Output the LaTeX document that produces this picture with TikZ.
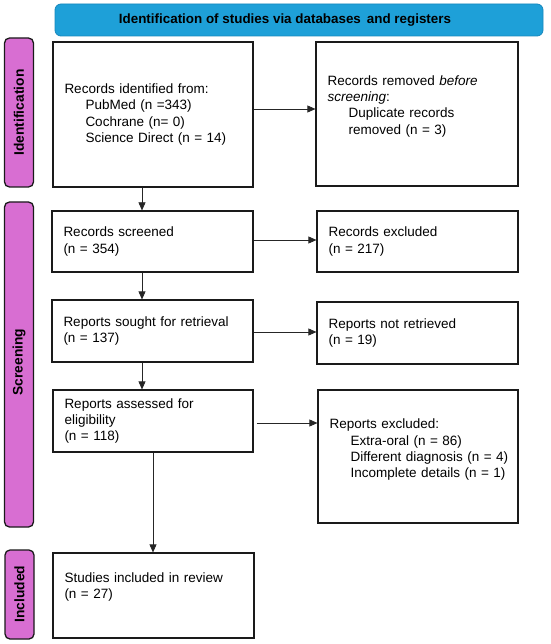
\documentclass[tikz,border=0pt]{standalone}
\usepackage{fontspec}
\setmainfont{Liberation Sans}
\usetikzlibrary{arrows.meta,calc}
\definecolor{barblue}{HTML}{1EA0D8}
\definecolor{barblueline}{HTML}{1787BC}
\definecolor{sidepink}{HTML}{D86ED2}
\definecolor{boxline}{HTML}{1A1A1A}
\begin{document}
\begin{tikzpicture}[x=1pt,y=-1pt,
  every node/.style={font=\fontsize{13.5}{16.2}\selectfont, inner sep=0pt},
  flowbox/.style={draw=boxline, line width=1.2pt, rectangle, align=left,
    text width=#1, inner xsep=11.5pt, inner ysep=0pt},
  sidebar/.style={draw=boxline, fill=sidepink, line width=1.3pt, rounded corners=5pt},
  sidelabel/.style={font=\fontsize{13.8}{16}\selectfont\bfseries, rotate=90},
  arr/.style={draw=black!85, line width=0.7pt, -{Triangle[length=8pt,width=7pt]}}
]
\useasboundingbox (0,0) rectangle (550,644);
% title
\node[draw=barblueline, fill=barblue, line width=0.8pt, rounded corners=6pt,
  minimum width=488pt, minimum height=32pt] (title) at (299,20) {};
\node[font=\fontsize{13.4}{16}\selectfont\bfseries] (titletext) at (285,20) {Identification of studies via databases\, and registers};
% side bars
\node[sidebar, minimum width=29pt, minimum height=149pt] (sid) at (19,112.5) {};
\node[sidelabel] (sidt) at (19,112.5) {Identification};
\node[sidebar, minimum width=29pt, minimum height=325pt] (sscr) at (19,364.5) {};
\node[sidelabel] (sscrt) at (19,362) {Screening};
\node[sidebar, minimum width=29pt, minimum height=89pt] (sinc) at (19.5,594.5) {};
\node[sidelabel] (sinct) at (19.5,594) {Included};
% boxes
\newcommand{\ind}{\hspace*{21pt}}
\node[flowbox=177pt, minimum height=145pt] (b1) at (153,114.5)
  {Records identified from:\\ \ind PubMed (n =343)\\ \ind Cochrane (n= 0)\\ \ind Science Direct (n = 14)};
\node[flowbox=179pt, minimum height=144pt] (b2) at (417,114)
  {Records removed \textit{before screening}:\\ \ind Duplicate records\\ \ind removed (n = 3)\\[2pt] \mbox{}};
\node[flowbox=178pt, minimum height=61pt] (b3) at (152.5,241.5)
  {Records screened\\ (n = 354)};
\node[flowbox=178pt, minimum height=61pt] (b4) at (417.5,241.5)
  {Records excluded\\ (n = 217)};
\node[flowbox=178pt, minimum height=62pt] (b5) at (152.5,331)
  {Reports sought for retrieval\\ (n = 137)};
\node[flowbox=178pt, minimum height=62pt] (b6) at (417.5,333)
  {Reports not retrieved\\ (n = 19)};
\node[flowbox=177pt, minimum height=62pt] (b7) at (153,421)
  {Reports assessed for\\ eligibility\\ (n = 118)};
\node[flowbox=177pt, minimum height=133pt] (b8) at (418,456.5)
  {Reports excluded:\\ \ind\mbox{Extra-oral (n = 86)}\\ \ind\mbox{Different diagnosis (n = 4)}\\ \ind\mbox{Incomplete details (n = 1)}\\ \mbox{}};
\node[flowbox=178pt, minimum height=85pt] (b9) at (153.5,595.5)
  {Studies included in review\\ (n = 27)\\[4pt] \mbox{}};
% arrow guides
\coordinate (vx) at (142,0);
\coordinate (vx2) at (153,0);
\coordinate (h1) at (0,109);
\coordinate (h2) at (0,240);
\coordinate (h3) at (0,332);
\coordinate (h4) at (0,423);
% connectors
\draw[arr] (vx |- b1.south) -- (vx |- b3.north);
\draw[arr] (vx |- b3.south) -- (vx |- b5.north);
\draw[arr] (vx |- b5.south) -- (vx |- b7.north);
\draw[arr] (vx2 |- b7.south) -- (vx2 |- b9.north);
\draw[arr] (b1.east |- h1) -- (b2.west |- h1);
\draw[arr] (b3.east |- h2) -- (b4.west |- h2);
\draw[arr] (b5.east |- h3) -- (b6.west |- h3);
\draw[arr] ([xshift=3pt]b7.east |- h4) -- (b8.west |- h4);
\end{tikzpicture}
\end{document}
